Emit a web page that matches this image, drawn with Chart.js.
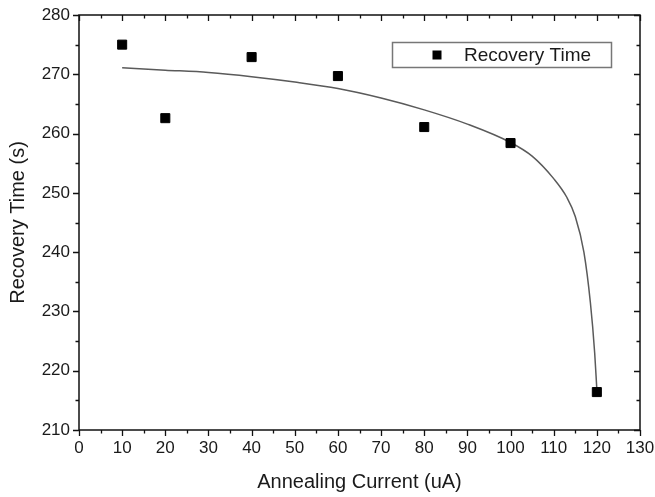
<!DOCTYPE html>
<html>
<head>
<meta charset="utf-8">
<script src="https://cdn.jsdelivr.net/npm/chart.js@4.4.1/dist/chart.umd.min.js"></script>
<style>
  html, body { margin: 0; padding: 0; background: #fff; }
  #wrap { width: 655px; height: 497px; position: relative; }
</style>
</head>
<body>
<div id="wrap"><canvas id="chart"></canvas></div>
<script>
// measured points
var currents = [10, 20, 40, 60, 80, 100, 120];
var recoveryTimes = [275.0, 262.6, 272.9, 269.7, 261.1, 258.4, 216.4];

// fitted curve
var fitCurrents = [10, 20, 30, 40, 50, 60, 70, 80, 90, 100, 105, 110, 113, 115, 117, 118.5, 119.5, 120];
var fitTimes = [271.1, 270.7, 270.3, 269.6, 268.7, 267.6, 266.0, 264.0, 261.6, 258.5, 256.2, 252.4, 249.3, 246.0, 240.0, 231.5, 223.0, 216.8];

// axis ranges
var xMin = 0, xMax = 130, xStep = 10;
var yMin = 210, yMax = 280, yStep = 10;

var FONT = "'Liberation Sans', Arial, sans-serif";
var TEXT = '#1a1a1a';

function toPoints(xs, ys) {
  return xs.map(function(v, i) { return {x: v, y: ys[i]}; });
}

// box round the plot, with major and minor ticks
var framePlugin = {
  id: 'frame',
  afterDatasetsDraw: function(chart) {
    var ctx = chart.ctx, a = chart.chartArea;
    var x = chart.scales.x, y = chart.scales.y;
    ctx.save();
    ctx.strokeStyle = '#111';
    ctx.lineWidth = 1.5;
    ctx.strokeRect(a.left, a.top, a.right - a.left, a.bottom - a.top);
    ctx.lineWidth = 1.3;
    ctx.beginPath();
    for (var v = xMin; v <= xMax; v += xStep / 2) {
      var px = Math.round(x.getPixelForValue(v)) + 0.5;
      var len = v % xStep === 0 ? 6 : 3.5;
      ctx.moveTo(px, a.bottom); ctx.lineTo(px, a.bottom + len);
      ctx.moveTo(px, a.top); ctx.lineTo(px, a.top + len);
    }
    for (var w = yMin; w <= yMax; w += yStep / 2) {
      var py = Math.round(y.getPixelForValue(w)) + 0.5;
      var l2 = w % yStep === 0 ? 6 : 3.5;
      ctx.moveTo(a.left, py); ctx.lineTo(a.left - l2, py);
      ctx.moveTo(a.right, py); ctx.lineTo(a.right - l2, py);
    }
    ctx.stroke();
    ctx.restore();
  }
};

// legend box inside the plot, top right
var legendPlugin = {
  id: 'boxLegend',
  afterDraw: function(chart) {
    var ctx = chart.ctx;
    var ds = chart.data.datasets[0];
    ctx.save();
    ctx.strokeStyle = '#777';
    ctx.lineWidth = 1.5;
    ctx.strokeRect(392.5, 42.5, 219, 25);
    ctx.fillStyle = ds.backgroundColor;
    ctx.fillRect(432.5, 50.5, 9, 9);
    ctx.fillStyle = TEXT;
    ctx.font = '19px ' + FONT;
    ctx.textBaseline = 'middle';
    ctx.fillText(ds.label, 464, 56);
    ctx.restore();
  }
};

new Chart(document.getElementById('chart'), {
  type: 'scatter',
  data: {
    datasets: [{
      label: 'Recovery Time',
      data: toPoints(currents, recoveryTimes),
      backgroundColor: '#000',
      borderColor: '#000',
      pointStyle: 'rect',
      pointRadius: 6.4,
      pointHoverRadius: 6.4,
      showLine: false,
      order: 0
    }, {
      label: 'Fit',
      data: toPoints(fitCurrents, fitTimes),
      borderColor: '#5a5a5a',
      borderWidth: 1.5,
      pointRadius: 0,
      showLine: true,
      cubicInterpolationMode: 'monotone',
      order: 1
    }]
  },
  options: {
    responsive: true,
    maintainAspectRatio: false,
    animation: false,
    layout: { padding: { top: 15, right: 15, left: 0, bottom: 0 } },
    plugins: {
      legend: { display: false },
      tooltip: { enabled: false }
    },
    scales: {
      x: {
        type: 'linear',
        min: xMin, max: xMax,
        border: { display: false },
        grid: { display: false, drawTicks: false },
        ticks: { stepSize: xStep, padding: 8, color: TEXT, font: { family: FONT, size: 17 } },
        title: { display: true, text: 'Annealing Current (uA)', color: TEXT,
                 font: { family: FONT, size: 20 }, padding: { top: 0, bottom: 3 } },
        afterFit: function(s) { s.height = 67; s.paddingLeft = 0; s.paddingRight = 0; }
      },
      y: {
        type: 'linear',
        min: yMin, max: yMax,
        border: { display: false },
        grid: { display: false, drawTicks: false },
        ticks: { stepSize: yStep, padding: 9, color: TEXT, font: { family: FONT, size: 17 } },
        title: { display: true, text: 'Recovery Time (s)', color: TEXT,
                 font: { family: FONT, size: 20 }, padding: { top: 6, bottom: 0 } },
        afterFit: function(s) { s.width = 79; s.paddingTop = 0; s.paddingBottom = 0; }
      }
    }
  },
  plugins: [framePlugin, legendPlugin]
});
</script>
</body>
</html>
